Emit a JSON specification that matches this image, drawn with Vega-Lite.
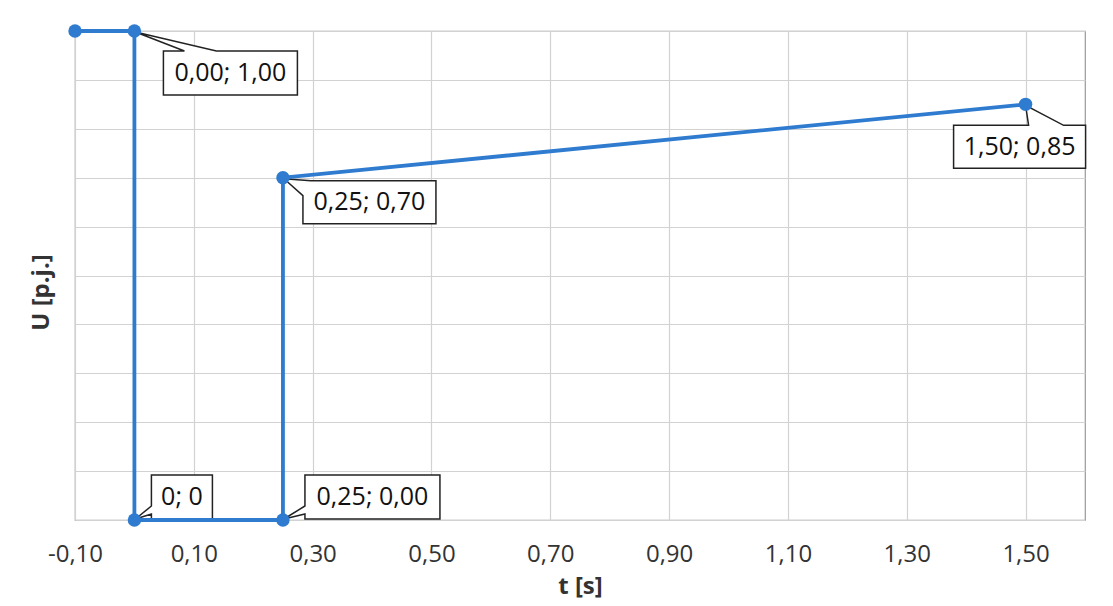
{
  "$schema": "https://vega.github.io/schema/vega-lite/v6.json",
  "autosize": "none",
  "width": 1010,
  "height": 489,
  "padding": {"left": 75, "top": 31, "right": 28, "bottom": 86},
  "background": "white",
  "config": {
    "locale": {"number": {"decimal": ",", "thousands": " ", "grouping": [3], "currency": ["", ""], "minus": "-"}},
    "view": {"stroke": "#9a9a9a", "strokeWidth": 1.2},
    "axis": {
      "labelFont": "Open Sans", "labelFontSize": 24, "labelColor": "#333333",
      "titleFont": "Open Sans", "titleFontSize": 24, "titleFontWeight": "bold", "titleColor": "#333333",
      "gridColor": "#d2d2d2", "gridWidth": 1.2, "domain": false, "ticks": false
    }
  },
  "data": {"values": [
    {"t": -0.1, "u": 1.0, "label": ""},
    {"t": 0.0, "u": 1.0, "label": "0,00; 1,00"},
    {"t": 0.0, "u": 0.0, "label": "0; 0"},
    {"t": 0.25, "u": 0.0, "label": "0,25; 0,00"},
    {"t": 0.25, "u": 0.7, "label": "0,25; 0,70"},
    {"t": 1.5, "u": 0.85, "label": "1,50; 0,85"}
  ]},
  "encoding": {
    "x": {"field": "t", "type": "quantitative",
      "scale": {"domain": [-0.1, 1.6], "nice": false, "zero": false},
      "axis": {"title": "t [s]", "values": [-0.1, 0.1, 0.3, 0.5, 0.7, 0.9, 1.1, 1.3, 1.5], "format": ".2f", "labelPadding": 22, "titlePadding": 8, "labelFlush": false}},
    "y": {"field": "u", "type": "quantitative",
      "scale": {"domain": [0, 1], "nice": false},
      "axis": {"title": "U [p.j.]", "values": [0, 0.1, 0.2, 0.3, 0.4, 0.5, 0.6, 0.7, 0.8, 0.9, 1.0], "labels": false, "titlePadding": 22, "titleY": 261}}
  },
  "layer": [
    {"transform": [{"filter": "datum.label === '0,00; 1,00'"}],
     "mark": {"type": "point", "filled": true, "fill": "white", "stroke": "#222", "strokeWidth": 1.5, "opacity": 1, "size": 4,
       "shape": "M50,20L1,1L82,20L163,20L163,64L29,64L29,20Z"}},
    {"transform": [{"filter": "datum.label === '0; 0'"}],
     "mark": {"type": "point", "filled": true, "fill": "white", "stroke": "#222", "strokeWidth": 1.5, "opacity": 1, "size": 4,
       "shape": "M17,-45L78,-45L78,-1L17,-1L17,-6L1,-1L17,-14Z"}},
    {"transform": [{"filter": "datum.label === '0,25; 0,00'"}],
     "mark": {"type": "point", "filled": true, "fill": "white", "stroke": "#222", "strokeWidth": 1.5, "opacity": 1, "size": 4,
       "shape": "M22,-45L157,-45L157,-1L22,-1L22,-6L1,-1L22,-14Z"}},
    {"transform": [{"filter": "datum.label === '0,25; 0,70'"}],
     "mark": {"type": "point", "filled": true, "fill": "white", "stroke": "#222", "strokeWidth": 1.5, "opacity": 1, "size": 4,
       "shape": "M1,1L28,3L153,3L153,46L20,46L20,18Z"}},
    {"transform": [{"filter": "datum.label === '1,50; 0,85'"}],
     "mark": {"type": "point", "filled": true, "fill": "white", "stroke": "#222", "strokeWidth": 1.5, "opacity": 1, "size": 4,
       "shape": "M-72,21L3,21L0,1L38,21L60,21L60,64L-72,64Z"}},
    {"mark": {"type": "line", "color": "#2E7BCF", "strokeWidth": 3.8, "point": false}},
    {"mark": {"type": "point", "filled": true, "color": "#2E7BCF", "opacity": 1, "size": 180}},
    {"transform": [{"filter": "datum.label === '0,00; 1,00'"}],
     "mark": {"type": "text", "font": "Open Sans", "fontSize": 25, "color": "#111111", "align": "center", "baseline": "middle", "dx": 96, "dy": 42},
     "encoding": {"text": {"field": "label"}}},
    {"transform": [{"filter": "datum.label === '0; 0'"}],
     "mark": {"type": "text", "font": "Open Sans", "fontSize": 25, "color": "#111111", "align": "center", "baseline": "middle", "dx": 47.5, "dy": -23},
     "encoding": {"text": {"field": "label"}}},
    {"transform": [{"filter": "datum.label === '0,25; 0,00'"}],
     "mark": {"type": "text", "font": "Open Sans", "fontSize": 25, "color": "#111111", "align": "center", "baseline": "middle", "dx": 89.5, "dy": -23},
     "encoding": {"text": {"field": "label"}}},
    {"transform": [{"filter": "datum.label === '0,25; 0,70'"}],
     "mark": {"type": "text", "font": "Open Sans", "fontSize": 25, "color": "#111111", "align": "center", "baseline": "middle", "dx": 86.5, "dy": 24.5},
     "encoding": {"text": {"field": "label"}}},
    {"transform": [{"filter": "datum.label === '1,50; 0,85'"}],
     "mark": {"type": "text", "font": "Open Sans", "fontSize": 25, "color": "#111111", "align": "center", "baseline": "middle", "dx": -6, "dy": 42.5},
     "encoding": {"text": {"field": "label"}}}
  ]
}
